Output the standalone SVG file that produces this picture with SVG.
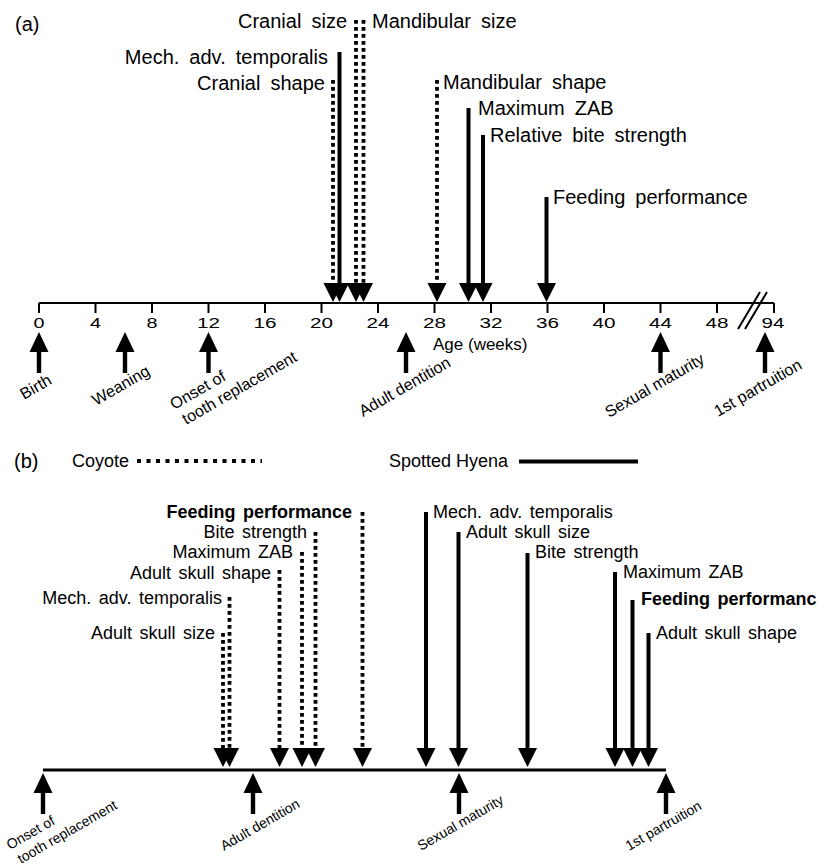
<svg xmlns="http://www.w3.org/2000/svg" xmlns:xlink="http://www.w3.org/1999/xlink" width="817" height="868" viewBox="0 0 817 868">
<style>
text{font-family:"Liberation Sans",Arial,sans-serif;fill:#000}
.pl{font-size:20px}
.la{font-size:20px;word-spacing:4.5px}
.lb{font-size:18px;word-spacing:2.5px}
.bold{font-weight:bold}
.tk{font-size:14px;text-anchor:middle}
.ra{font-size:16.2px}
.rb{font-size:14px}
.leg{font-size:18px}
.ax{stroke:#000;stroke-width:2;fill:none}
.axb{stroke:#000;stroke-width:2.8;fill:none}
.sol{stroke:#000;stroke-width:4;fill:none}
.dot{stroke:#000;stroke-width:3.8;stroke-dasharray:3.8 3.2;fill:none}
.legdot{stroke:#000;stroke-width:4;stroke-dasharray:4 5.5;fill:none}
.end{text-anchor:end}
</style>
<defs>
<path id="dh" d="M-9.5,-19 L9.5,-19 L0,0 Z" fill="#000"/>
<g id="ua"><path d="M0,0 L9.5,20 L-9.5,20 Z" fill="#000"/><rect x="-2.2" y="19" width="4.4" height="22" fill="#000"/></g>
</defs>

<text class="pl" x="15" y="31">(a)</text>

<g id="axis-a">
<line class="ax" x1="39" y1="303" x2="774" y2="303"/>
<path class="ax" d="M39,303V313M95.5,303V313M152,303V313M208.5,303V313M265,303V313M321.5,303V313M378,303V313M434.5,303V313M491,303V313M547.5,303V313M604,303V313M660.5,303V313M717,303V313M774,303V313"/>
<path class="ax" d="M738,329L760,292M745,329L767,292" stroke-width="1.8"/>
<text class="tk" x="39" y="328" textLength="11" lengthAdjust="spacingAndGlyphs">0</text>
<text class="tk" x="95.5" y="328" textLength="11" lengthAdjust="spacingAndGlyphs">4</text>
<text class="tk" x="152" y="328" textLength="11" lengthAdjust="spacingAndGlyphs">8</text>
<text class="tk" x="208.5" y="328" textLength="23" lengthAdjust="spacingAndGlyphs">12</text>
<text class="tk" x="265" y="328" textLength="23" lengthAdjust="spacingAndGlyphs">16</text>
<text class="tk" x="321.5" y="328" textLength="23" lengthAdjust="spacingAndGlyphs">20</text>
<text class="tk" x="378" y="328" textLength="23" lengthAdjust="spacingAndGlyphs">24</text>
<text class="tk" x="434.5" y="328" textLength="23" lengthAdjust="spacingAndGlyphs">28</text>
<text class="tk" x="491" y="328" textLength="23" lengthAdjust="spacingAndGlyphs">32</text>
<text class="tk" x="547.5" y="328" textLength="23" lengthAdjust="spacingAndGlyphs">36</text>
<text class="tk" x="604" y="328" textLength="23" lengthAdjust="spacingAndGlyphs">40</text>
<text class="tk" x="660.5" y="328" textLength="23" lengthAdjust="spacingAndGlyphs">44</text>
<text class="tk" x="717" y="328" textLength="23" lengthAdjust="spacingAndGlyphs">48</text>
<text class="tk" x="773" y="328" textLength="23" lengthAdjust="spacingAndGlyphs">94</text>
<text x="433" y="350" font-size="17">Age (weeks)</text>
</g>

<g id="connectors-a">
<g id="a-cranial-shape"><line class="dot" x1="333" y1="80" x2="333" y2="284"/><use xlink:href="#dh" x="333" y="302"/><text class="la end" x="325" y="90">Cranial shape</text></g>
<g id="a-mech-adv"><line class="sol" x1="339.5" y1="52" x2="339.5" y2="285"/><use xlink:href="#dh" x="339.5" y="302"/><text class="la end" x="328" y="64">Mech. adv. temporalis</text></g>
<g id="a-cranial-size"><line class="dot" x1="356" y1="20" x2="356" y2="284"/><use xlink:href="#dh" x="356" y="302"/><text class="la end" x="347" y="28">Cranial size</text></g>
<g id="a-mand-size"><line class="dot" x1="363.5" y1="20" x2="363.5" y2="284"/><use xlink:href="#dh" x="363.5" y="302"/><text class="la" x="372" y="28">Mandibular size</text></g>
<g id="a-mand-shape"><line class="dot" x1="437" y1="80" x2="437" y2="284"/><use xlink:href="#dh" x="437" y="302"/><text class="la" x="443" y="89">Mandibular shape</text></g>
<g id="a-max-zab"><line class="sol" x1="468.5" y1="108" x2="468.5" y2="285"/><use xlink:href="#dh" x="468.5" y="302"/><text class="la" x="478" y="115">Maximum ZAB</text></g>
<g id="a-rel-bite"><line class="sol" x1="483" y1="135" x2="483" y2="285"/><use xlink:href="#dh" x="483" y="302"/><text class="la" x="490" y="142">Relative bite strength</text></g>
<g id="a-feeding"><line class="sol" x1="546.5" y1="197" x2="546.5" y2="285"/><use xlink:href="#dh" x="546.5" y="302"/><text class="la" x="553" y="204">Feeding performance</text></g>
</g>

<g id="milestones-a">
<g id="a-birth"><use xlink:href="#ua" x="39" y="332"/><text class="ra" transform="translate(24,400) rotate(-30)">Birth</text></g>
<g id="a-weaning"><use xlink:href="#ua" x="125" y="332"/><text class="ra" transform="translate(96,406) rotate(-30)">Weaning</text></g>
<g id="a-onset"><use xlink:href="#ua" x="208.5" y="332"/><text class="ra" transform="translate(174,410) rotate(-30)">Onset of</text><text class="ra" transform="translate(186,425) rotate(-30)">tooth replacement</text></g>
<g id="a-adult-dentition"><use xlink:href="#ua" x="406" y="332"/><text class="ra" transform="translate(363,417) rotate(-30)">Adult dentition</text></g>
<g id="a-sexual-maturity"><use xlink:href="#ua" x="660.5" y="332"/><text class="ra" transform="translate(609,418) rotate(-30)">Sexual maturity</text></g>
<g id="a-partruition"><use xlink:href="#ua" x="765" y="332"/><text class="ra" transform="translate(718,417) rotate(-30)">1st partruition</text></g>
</g>

<text class="pl" x="14" y="468">(b)</text>
<g id="legend">
<text class="leg" x="72" y="467">Coyote</text>
<line class="legdot" x1="137" y1="461" x2="262" y2="461"/>
<text class="leg" x="389" y="467">Spotted Hyena</text>
<line class="sol" x1="519" y1="461.5" x2="638" y2="461.5"/>
</g>

<g id="axis-b">
<line class="axb" x1="43" y1="770" x2="666" y2="770"/>
</g>

<g id="connectors-b">
<g id="b-coy-skull-size"><line class="dot" x1="223" y1="633" x2="223" y2="749"/><use xlink:href="#dh" x="223" y="767"/><text class="lb end" x="215" y="639">Adult skull size</text></g>
<g id="b-coy-mech"><line class="dot" x1="229.5" y1="597" x2="229.5" y2="749"/><use xlink:href="#dh" x="229.5" y="767"/><text class="lb end" x="222" y="604">Mech. adv. temporalis</text></g>
<g id="b-coy-skull-shape"><line class="dot" x1="279.5" y1="570" x2="279.5" y2="749"/><use xlink:href="#dh" x="279.5" y="767"/><text class="lb end" x="271" y="579">Adult skull shape</text></g>
<g id="b-coy-zab"><line class="dot" x1="302" y1="552" x2="302" y2="749"/><use xlink:href="#dh" x="302" y="767"/><text class="lb end" x="293" y="558">Maximum ZAB</text></g>
<g id="b-coy-bite"><line class="dot" x1="315.5" y1="532" x2="315.5" y2="749"/><use xlink:href="#dh" x="315.5" y="767"/><text class="lb end" x="307" y="538">Bite strength</text></g>
<g id="b-coy-feeding"><line class="dot" x1="362.5" y1="512" x2="362.5" y2="749"/><use xlink:href="#dh" x="362.5" y="767"/><text class="lb end bold" x="352" y="518">Feeding performance</text></g>
<g id="b-hy-mech"><line class="sol" x1="426" y1="512" x2="426" y2="750"/><use xlink:href="#dh" x="426" y="767"/><text class="lb" x="433" y="518">Mech. adv. temporalis</text></g>
<g id="b-hy-skull-size"><line class="sol" x1="458.5" y1="532" x2="458.5" y2="750"/><use xlink:href="#dh" x="458.5" y="767"/><text class="lb" x="466" y="538">Adult skull size</text></g>
<g id="b-hy-bite"><line class="sol" x1="527.5" y1="553" x2="527.5" y2="750"/><use xlink:href="#dh" x="527.5" y="767"/><text class="lb" x="535" y="558">Bite strength</text></g>
<g id="b-hy-zab"><line class="sol" x1="615" y1="572" x2="615" y2="750"/><use xlink:href="#dh" x="615" y="767"/><text class="lb" x="623" y="578">Maximum ZAB</text></g>
<g id="b-hy-feeding"><line class="sol" x1="632.5" y1="600" x2="632.5" y2="750"/><use xlink:href="#dh" x="632.5" y="767"/><text class="lb bold" x="641" y="605">Feeding performance</text></g>
<g id="b-hy-skull-shape"><line class="sol" x1="648.5" y1="633" x2="648.5" y2="750"/><use xlink:href="#dh" x="648.5" y="767"/><text class="lb" x="656" y="639">Adult skull shape</text></g>
</g>

<g id="milestones-b">
<g id="b-onset"><use xlink:href="#ua" x="43" y="773"/><text class="rb" transform="translate(10,850) rotate(-30)">Onset of</text><text class="rb" transform="translate(21,864) rotate(-30)">tooth replacement</text></g>
<g id="b-adult-dentition"><use xlink:href="#ua" x="253" y="773"/><text class="rb" transform="translate(224,851) rotate(-30)">Adult dentition</text></g>
<g id="b-sexual-maturity"><use xlink:href="#ua" x="459" y="773"/><text class="rb" transform="translate(421,851) rotate(-30)">Sexual maturity</text></g>
<g id="b-partruition"><use xlink:href="#ua" x="666" y="773"/><text class="rb" transform="translate(629,851) rotate(-30)">1st partruition</text></g>
</g>
</svg>
